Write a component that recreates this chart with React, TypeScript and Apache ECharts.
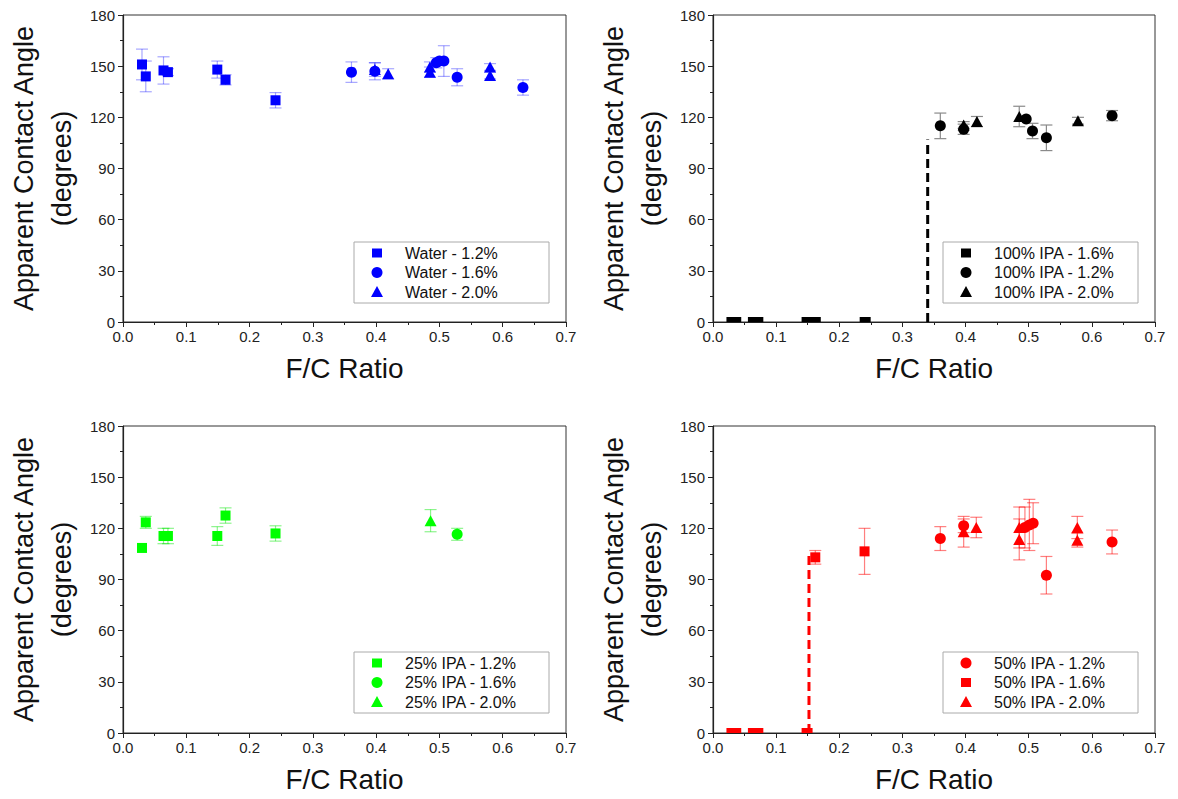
import React, { useEffect, useRef } from 'react';
import * as echarts from 'echarts';

// ---------- data: [F/C ratio, contact angle, error] ----------
const waterSq12 = [[0.030, 151, 9], [0.036, 144, 9], [0.064, 147.5, 8], [0.071, 146.5, 2], [0.149, 148, 5], [0.162, 142, 3], [0.241, 130, 4.5]];
const waterCi16 = [[0.361, 146.5, 6], [0.398, 147, 5], [0.495, 152, 3], [0.500, 153, 0], [0.507, 153, 9], [0.528, 143.5, 5], [0.632, 137.5, 4.5]];
const waterTr20 = [[0.398, 148, 4], [0.419, 145.5, 3], [0.485, 149.5, 3], [0.485, 146.5, 3], [0.580, 149.5, 2], [0.580, 144.5, 2]];

const ipa100SqZeroX = [0.030, 0.036, 0.064, 0.071, 0.149, 0.162, 0.241];
const ipa100Ci12 = [[0.360, 115, 7.5], [0.397, 113, 3], [0.496, 119, 0], [0.506, 112, 4.5], [0.528, 108, 7.5], [0.632, 121, 3]];
const ipa100Tr20 = [[0.397, 115.5, 2], [0.418, 117.5, 3], [0.485, 120.5, 6], [0.578, 118, 2]];
const ipa100Transition = [[0.34, 0], [0.34, 107]];

const ipa25Sq12 = [[0.030, 108.5, 0], [0.036, 123.5, 3.5], [0.064, 115.5, 4.5], [0.071, 115.5, 4.5], [0.149, 115.5, 5.5], [0.162, 127.5, 4.5], [0.241, 117, 4.5]];
const ipa25Ci16 = [[0.528, 116.5, 3.5]];
const ipa25Tr20 = [[0.486, 124.5, 6.5]];

const ipa50Ci12 = [[0.360, 114, 7], [0.397, 121.5, 4], [0.494, 120.5, 12], [0.501, 122, 15], [0.507, 123, 12], [0.528, 92.5, 11], [0.632, 112, 7]];
const ipa50SqZeroX = [0.030, 0.036, 0.064, 0.071, 0.149];
const ipa50Sq16 = [[0.162, 103, 4], [0.240, 106.5, 13.5]];
const ipa50Tr20 = [[0.397, 118, 9], [0.417, 120.5, 6], [0.485, 120.5, 12], [0.485, 113.5, 12], [0.577, 120.5, 6.5], [0.577, 113, 4]];
const ipa50Transition = [[0.152, 0], [0.152, 104]];

const xTickLabels = ['0.0', '0.1', '0.2', '0.3', '0.4', '0.5', '0.6', '0.7'];

const FONT = '"Liberation Sans", Arial, sans-serif';
const TRI = 'path://M0,10 L5,0 L10,10 Z';

const grids = [
  { left: 123, top: 15, width: 443, height: 307 },
  { left: 713, top: 15, width: 442, height: 307 },
  { left: 123, top: 426, width: 443, height: 307 },
  { left: 713, top: 426, width: 442, height: 307 },
];

function xAxis(i: number) {
  return {
    gridIndex: i, type: 'value', min: 0, max: 0.7, interval: 0.1,
    name: 'F/C Ratio', nameLocation: 'middle', nameGap: 32,
    nameTextStyle: { fontSize: 28, fontFamily: FONT, color: '#111' },
    axisLine: { onZero: false, lineStyle: { color: '#222', width: 1.2 } },
    axisTick: { length: 5, lineStyle: { color: '#222' } },
    minorTick: { show: true, splitNumber: 2, length: 3, lineStyle: { color: '#222' } },
    splitLine: { show: false },
    axisLabel: { formatter: (v: number) => xTickLabels[Math.round(v * 10)] ?? v.toFixed(1), fontSize: 15, color: '#222', margin: 7, fontFamily: FONT },
  };
}
function yAxis(i: number) {
  return {
    gridIndex: i, type: 'value', min: 0, max: 180, interval: 30,
    name: 'Apparent Contact Angle\n(degrees)', nameLocation: 'middle', nameGap: 42,
    nameTextStyle: { fontSize: 27, fontFamily: FONT, color: '#111', lineHeight: 38 },
    axisLine: { onZero: false, lineStyle: { color: '#222', width: 1.2 } },
    axisTick: { length: 5, lineStyle: { color: '#222' } },
    minorTick: { show: true, splitNumber: 2, length: 3, lineStyle: { color: '#222' } },
    splitLine: { show: false },
    axisLabel: { fontSize: 15, color: '#222', margin: 8, fontFamily: FONT },
  };
}

function scatter(name: string, data: number[][], symbol: string, size: number | number[], color: string, idx: number, zeroX: number[] = []) {
  const items: any[] = data.map((d) => [d[0], d[1]]);
  zeroX.forEach((x) => items.push({ value: [x, 0], symbol: 'rect', symbolSize: [11, 5], symbolOffset: [0, -2.5] }));
  return {
    type: 'scatter', name, xAxisIndex: idx, yAxisIndex: idx, data: items, symbol, symbolSize: size,
    itemStyle: { color, opacity: 1 }, z: 3, clip: false,
  };
}

function errors(data: number[][], color: string, idx: number) {
  const items = data.filter((d) => d[2] > 0).map((d) => [d[0], d[1] - d[2], d[1] + d[2]]);
  return {
    type: 'custom', xAxisIndex: idx, yAxisIndex: idx, data: items, z: 2, silent: true,
    encode: { x: 0, y: [1, 2] },
    renderItem: (_p: any, api: any) => {
      const x = api.value(0);
      const a = api.coord([x, api.value(2)]);
      const b = api.coord([x, api.value(1)]);
      const hw = 6;
      const style = { stroke: color, lineWidth: 1.2 };
      return {
        type: 'group', children: [
          { type: 'line', shape: { x1: a[0], y1: a[1], x2: b[0], y2: b[1] }, style },
          { type: 'line', shape: { x1: a[0] - hw, y1: a[1], x2: a[0] + hw, y2: a[1] }, style },
          { type: 'line', shape: { x1: b[0] - hw, y1: b[1], x2: b[0] + hw, y2: b[1] }, style },
        ],
      };
    },
  };
}

function dashed(data: number[][], color: string, idx: number) {
  return {
    type: 'line', xAxisIndex: idx, yAxisIndex: idx, data, symbol: 'none', z: 2, silent: true,
    lineStyle: { color, width: 3, type: [9, 5] },
  };
}

function legend(x: number, y: number, color: string, entries: [string, string][]) {
  const children: any[] = [
    { type: 'rect', shape: { x: 0, y: 0, width: 195, height: 61 }, style: { fill: '#fff', stroke: '#aaa', lineWidth: 1 } },
  ];
  entries.forEach(([shape, label], k) => {
    const cy = 11 + k * 19.5;
    const cx = 23;
    if (shape === 'sq') children.push({ type: 'rect', shape: { x: cx - 5, y: cy - 4.5, width: 10, height: 9 }, style: { fill: color } });
    if (shape === 'ci') children.push({ type: 'circle', shape: { cx, cy, r: 5.5 }, style: { fill: color } });
    if (shape === 'tr') children.push({ type: 'polygon', shape: { points: [[cx - 6, cy + 5], [cx, cy - 6], [cx + 6, cy + 5]] }, style: { fill: color } });
    children.push({ type: 'text', x: 51, y: cy, style: { text: label, fontSize: 16, fontFamily: FONT, fill: '#111', verticalAlign: 'middle', align: 'left' } });
  });
  return { type: 'group', x, y, children, z: 10 };
}

const BLUE = '#0000ff', BLUE_E = 'rgba(0,0,255,0.35)';
const BLACK = '#000000', BLACK_E = '#8a8a8a';
const GREEN = '#00ff00', GREEN_E = 'rgba(0,230,0,0.45)';
const RED = '#ff0000', RED_E = 'rgba(255,0,0,0.5)';

const option: any = {
  animation: false,
  backgroundColor: '#ffffff',
  grid: grids.map((g) => ({ ...g, show: true, borderColor: '#333', borderWidth: 1, backgroundColor: 'transparent' })),
  xAxis: [0, 1, 2, 3].map(xAxis),
  yAxis: [0, 1, 2, 3].map(yAxis),
  series: [
    errors(waterSq12, BLUE_E, 0), errors(waterCi16, BLUE_E, 0), errors(waterTr20, BLUE_E, 0),
    scatter('Water - 1.2%', waterSq12, 'rect', 10, BLUE, 0),
    scatter('Water - 1.6%', waterCi16, 'circle', 11, BLUE, 0),
    scatter('Water - 2.0%', waterTr20, TRI, [12, 11], BLUE, 0),

    dashed(ipa100Transition, BLACK, 1),
    errors(ipa100Ci12, BLACK_E, 1), errors(ipa100Tr20, BLACK_E, 1),
    scatter('100% IPA - 1.6%', [], 'rect', 10, BLACK, 1, ipa100SqZeroX),
    scatter('100% IPA - 1.2%', ipa100Ci12, 'circle', 11, BLACK, 1),
    scatter('100% IPA - 2.0%', ipa100Tr20, TRI, [12, 11], BLACK, 1),

    errors(ipa25Sq12, GREEN_E, 2), errors(ipa25Ci16, GREEN_E, 2), errors(ipa25Tr20, GREEN_E, 2),
    scatter('25% IPA - 1.2%', ipa25Sq12, 'rect', 10, GREEN, 2),
    scatter('25% IPA - 1.6%', ipa25Ci16, 'circle', 11, GREEN, 2),
    scatter('25% IPA - 2.0%', ipa25Tr20, TRI, [12, 11], GREEN, 2),

    dashed(ipa50Transition, RED, 3),
    errors(ipa50Ci12, RED_E, 3), errors(ipa50Sq16, RED_E, 3), errors(ipa50Tr20, RED_E, 3),
    scatter('50% IPA - 1.2%', ipa50Ci12, 'circle', 11, RED, 3),
    scatter('50% IPA - 1.6%', ipa50Sq16, 'rect', 10, RED, 3, ipa50SqZeroX),
    scatter('50% IPA - 2.0%', ipa50Tr20, TRI, [12, 11], RED, 3),
  ],
  graphic: [
    legend(354, 242, BLUE, [['sq', 'Water - 1.2%'], ['ci', 'Water - 1.6%'], ['tr', 'Water - 2.0%']]),
    legend(943, 242, BLACK, [['sq', '100% IPA - 1.6%'], ['ci', '100% IPA - 1.2%'], ['tr', '100% IPA - 2.0%']]),
    legend(354, 652, GREEN, [['sq', '25% IPA - 1.2%'], ['ci', '25% IPA - 1.6%'], ['tr', '25% IPA - 2.0%']]),
    legend(943, 652, RED, [['ci', '50% IPA - 1.2%'], ['sq', '50% IPA - 1.6%'], ['tr', '50% IPA - 2.0%']]),
  ],
};

export default function App() {
  const ref = useRef<HTMLDivElement>(null);
  useEffect(() => {
    document.body.style.margin = '0';
    const chart = echarts.init(ref.current!, null, { renderer: 'svg' });
    chart.setOption(option);
    return () => chart.dispose();
  }, []);
  return <div ref={ref} style={{ width: 1178, height: 799 }} />;
}
